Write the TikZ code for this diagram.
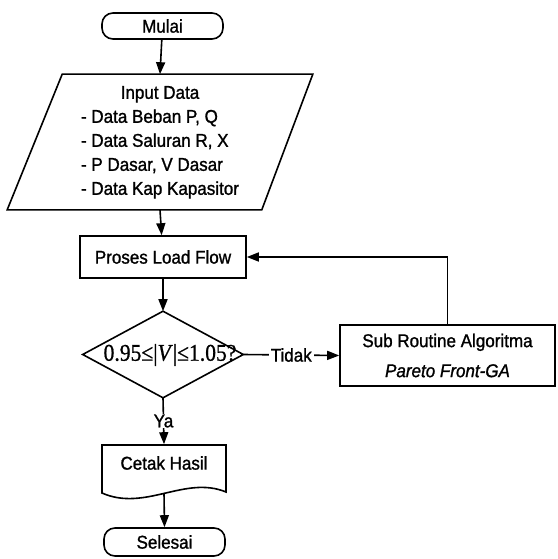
\documentclass[tikz,border=0pt]{standalone}
\usepackage{fontspec}
\setmainfont[FakeStretch=0.92,FakeBold=1.2]{Liberation Sans}
\newfontfamily\eqfont[FakeStretch=0.9,FakeBold=0.8]{Liberation Serif}
\usetikzlibrary{arrows.meta,calc}

\begin{document}
\begin{tikzpicture}[x=1pt,y=-1pt,
  line width=1.6pt,
  every node/.style={font=\fontsize{18.5}{24}\selectfont, inner sep=0pt},
  flow/.style={-{Triangle[length=12pt,width=9pt]}},
  term/.style={draw, rounded corners=11pt, minimum width=121pt, minimum height=26pt},
  procbox/.style={draw, minimum width=166pt, minimum height=42pt},
  subbox/.style={draw, minimum width=215pt, minimum height=61pt, align=center},
  edgelabel/.style={fill=white, inner xsep=2pt, inner ysep=1pt}]

\useasboundingbox (0,0) rectangle (557,559);

% start terminal
\node[term] (mulai) at (162.5,26) {Mulai};

% input parallelogram (node holds the text, outline drawn around it)
\node[minimum width=304pt, minimum height=134pt] (input) at (160,142) {%
  \begin{tabular}{@{}l@{}}
    \multicolumn{1}{@{}c@{}}{Input Data}\\
    - Data Beban P, Q\\
    - Data Saluran R, X\\
    - P Dasar, V Dasar\\
    - Data Kap Kapasitor
  \end{tabular}};
\draw ($(input.north west)+(55,0)$) -- (input.north east)
      -- ($(input.south east)+(-51,0)$) -- (input.south west) -- cycle;

% load flow process
\node[procbox] (proses) at (163,257) {Proses Load Flow};

% voltage check decision
\node[minimum width=159pt, minimum height=85pt] (cek) at (163,354.5) {};
\draw (cek.north) -- (cek.east) -- (cek.south) -- (cek.west) -- cycle;
\node[font=\eqfont\fontsize{24}{28}\selectfont] (cektext) at (170,355)
  {0.95≤|\textit{V}|≤1.05?};

% optimisation subroutine
\node[subbox] (sub) at (447.5,355.5) {Sub Routine Algoritma\\[6pt]\textit{Pareto Front-GA}};

% print result (document shape)
\node[minimum width=124pt, minimum height=36pt] (cetak) at (164,463) {Cetak Hasil};
\draw (102,445) -- (226,445) -- (226,492)
      .. controls (185,475) and (145,512) .. (102,493) -- cycle;
\coordinate (cetakbot) at (164,493);

% end terminal
\node[term, minimum height=28pt] (selesai) at (164.5,542) {Selesai};

% connectors
\draw[flow] (mulai) -- (input.north);
\draw[flow] (input.south) -- (proses);
\draw[flow] (proses) -- (cek.north);
\draw[flow] (cek.east) -- node[edgelabel] {Tidak} (sub.west);
\draw[flow] (sub.north) |- (proses.east);
\draw[flow] (cek.south) -- node[edgelabel] {Ya} (cetak.north);
\draw[flow] (cetakbot) -- (selesai.north);

\end{tikzpicture}
\end{document}
